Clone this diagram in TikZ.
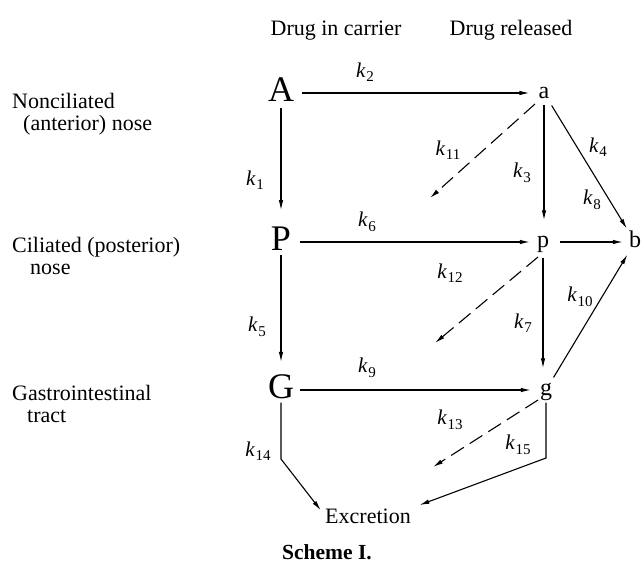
\documentclass[tikz,border=0pt]{standalone}
\usepackage{fontspec}
\setmainfont{Liberation Serif}
\usetikzlibrary{arrows.meta}
\newcommand\kk[1]{{\fontsize{21}{21}\selectfont\itshape k}\kern0.8pt\raisebox{-4.5pt}{\fontsize{15}{15}\selectfont #1}}
\begin{document}
\begin{tikzpicture}[x=1pt,y=-1pt,
  arr/.style={line width=1.1pt,-{Latex[length=10pt,width=4.5pt]}},
  dasharr/.style={arr,dash pattern=on 15pt off 7pt},
  big/.style={font=\fontsize{36}{36}\selectfont,inner sep=0pt},
  small/.style={font=\fontsize{24}{24}\selectfont,inner sep=0pt,text height=11pt,text depth=0pt},
  txt/.style={font=\fontsize{22}{22}\selectfont,inner sep=0pt},
  lab/.style={inner sep=0pt}]
\useasboundingbox (0,0) rectangle (642,564);
% headers
\node[txt,anchor=base] (hc) at (336,36) {Drug in carrier};
\node[txt,anchor=base] (hr) at (511,36) {Drug released};
% left labels
\node[txt,anchor=base west] (l1a) at (12,109) {Nonciliated};
\node[txt,anchor=base west] (l1b) at (23,131) {(anterior) nose};
\node[txt,anchor=base west] (l2a) at (12,252) {Ciliated (posterior)};
\node[txt,anchor=base west] (l2b) at (30,274) {nose};
\node[txt,anchor=base west] (l3a) at (12,400) {Gastrointestinal};
\node[txt,anchor=base west] (l3b) at (27,422) {tract};
% main nodes
\node[big,anchor=base] (A) at (281,102) {A};
\node[big,anchor=base] (P) at (281,250) {P};
\node[big,anchor=base] (G) at (281,398) {G};
\node[small] (a) at (544,93) {a};
\node[small] (p) at (543,242) {p};
\node[small] (b) at (635,242) {b};
\node[small] (g) at (546,390) {g};
\node[txt,anchor=base] (Ex) at (368,523) {Excretion};
\node[font=\bfseries\fontsize{21.5}{21.5}\selectfont,anchor=base,inner sep=0pt] (cap) at (327,559) {Scheme I.};
% free ends
\coordinate (e11) at (430,198);
\coordinate (e12) at (435,343);
\coordinate (e13) at (433,467);
\coordinate (c14) at (281,459);
\coordinate (c15) at (546,458);
% connectors
\draw[arr,shorten <=8pt,shorten >=9pt] (A.east |- a.center) -- (a.west);
\draw[arr,shorten <=6pt,shorten >=16pt] (A.south) -- (P.north);
\draw[arr,shorten <=5pt,shorten >=12pt] (P.south) -- (G.north);
\draw[arr,shorten <=9pt,shorten >=7pt] (P.east |- p.center) -- (p.west);
\draw[arr,shorten <=6pt,shorten >=9pt] (G.east |- g.center) -- (g.west);
\draw[arr,shorten <=6pt,shorten >=16pt] (a.south) -- (a.south |- p.north);
\draw[arr,shorten <=10pt,shorten >=16pt] (p.south) -- (p.south |- g.north);
\draw[arr,shorten <=8pt,shorten >=9pt] (a) -- (b);
\draw[arr,shorten <=11pt,shorten >=6pt] (p) -- (b);
\draw[arr,shorten <=8pt,shorten >=8pt] (g) -- (b);
\draw[dasharr] ([shift={(-9,11)}]a.center) -- (e11);
\draw[dasharr] ([shift={(-5,15)}]p.center) -- (e12);
\draw[dasharr] ([shift={(-8,10)}]g.center) -- (e13);
\draw[arr,shorten <=4pt,shorten >=7pt] (G.south) -- (c14) -- (Ex.west);
\draw[arr,shorten <=7pt,shorten >=9pt] (g.south) -- (c15) -- (Ex.north east);
% rate constants
\node[lab] (k1) at (255,180) {\kk{1}};
\node[lab] (k2) at (365,72) {\kk{2}};
\node[lab] (k3) at (522,173) {\kk{3}};
\node[lab] (k4) at (598,147) {\kk{4}};
\node[lab] (k5) at (257,327) {\kk{5}};
\node[lab] (k6) at (367,222) {\kk{6}};
\node[lab] (k7) at (523,323) {\kk{7}};
\node[lab] (k8) at (592,200) {\kk{8}};
\node[lab] (k9) at (367,368) {\kk{9}};
\node[lab] (k10) at (580,297) {\kk{10}};
\node[lab] (k11) at (448,150) {\kk{11}};
\node[lab] (k12) at (450,273) {\kk{12}};
\node[lab] (k13) at (450,420) {\kk{13}};
\node[lab] (k14) at (258,451) {\kk{14}};
\node[lab] (k15) at (518,445) {\kk{15}};
\end{tikzpicture}
\end{document}
